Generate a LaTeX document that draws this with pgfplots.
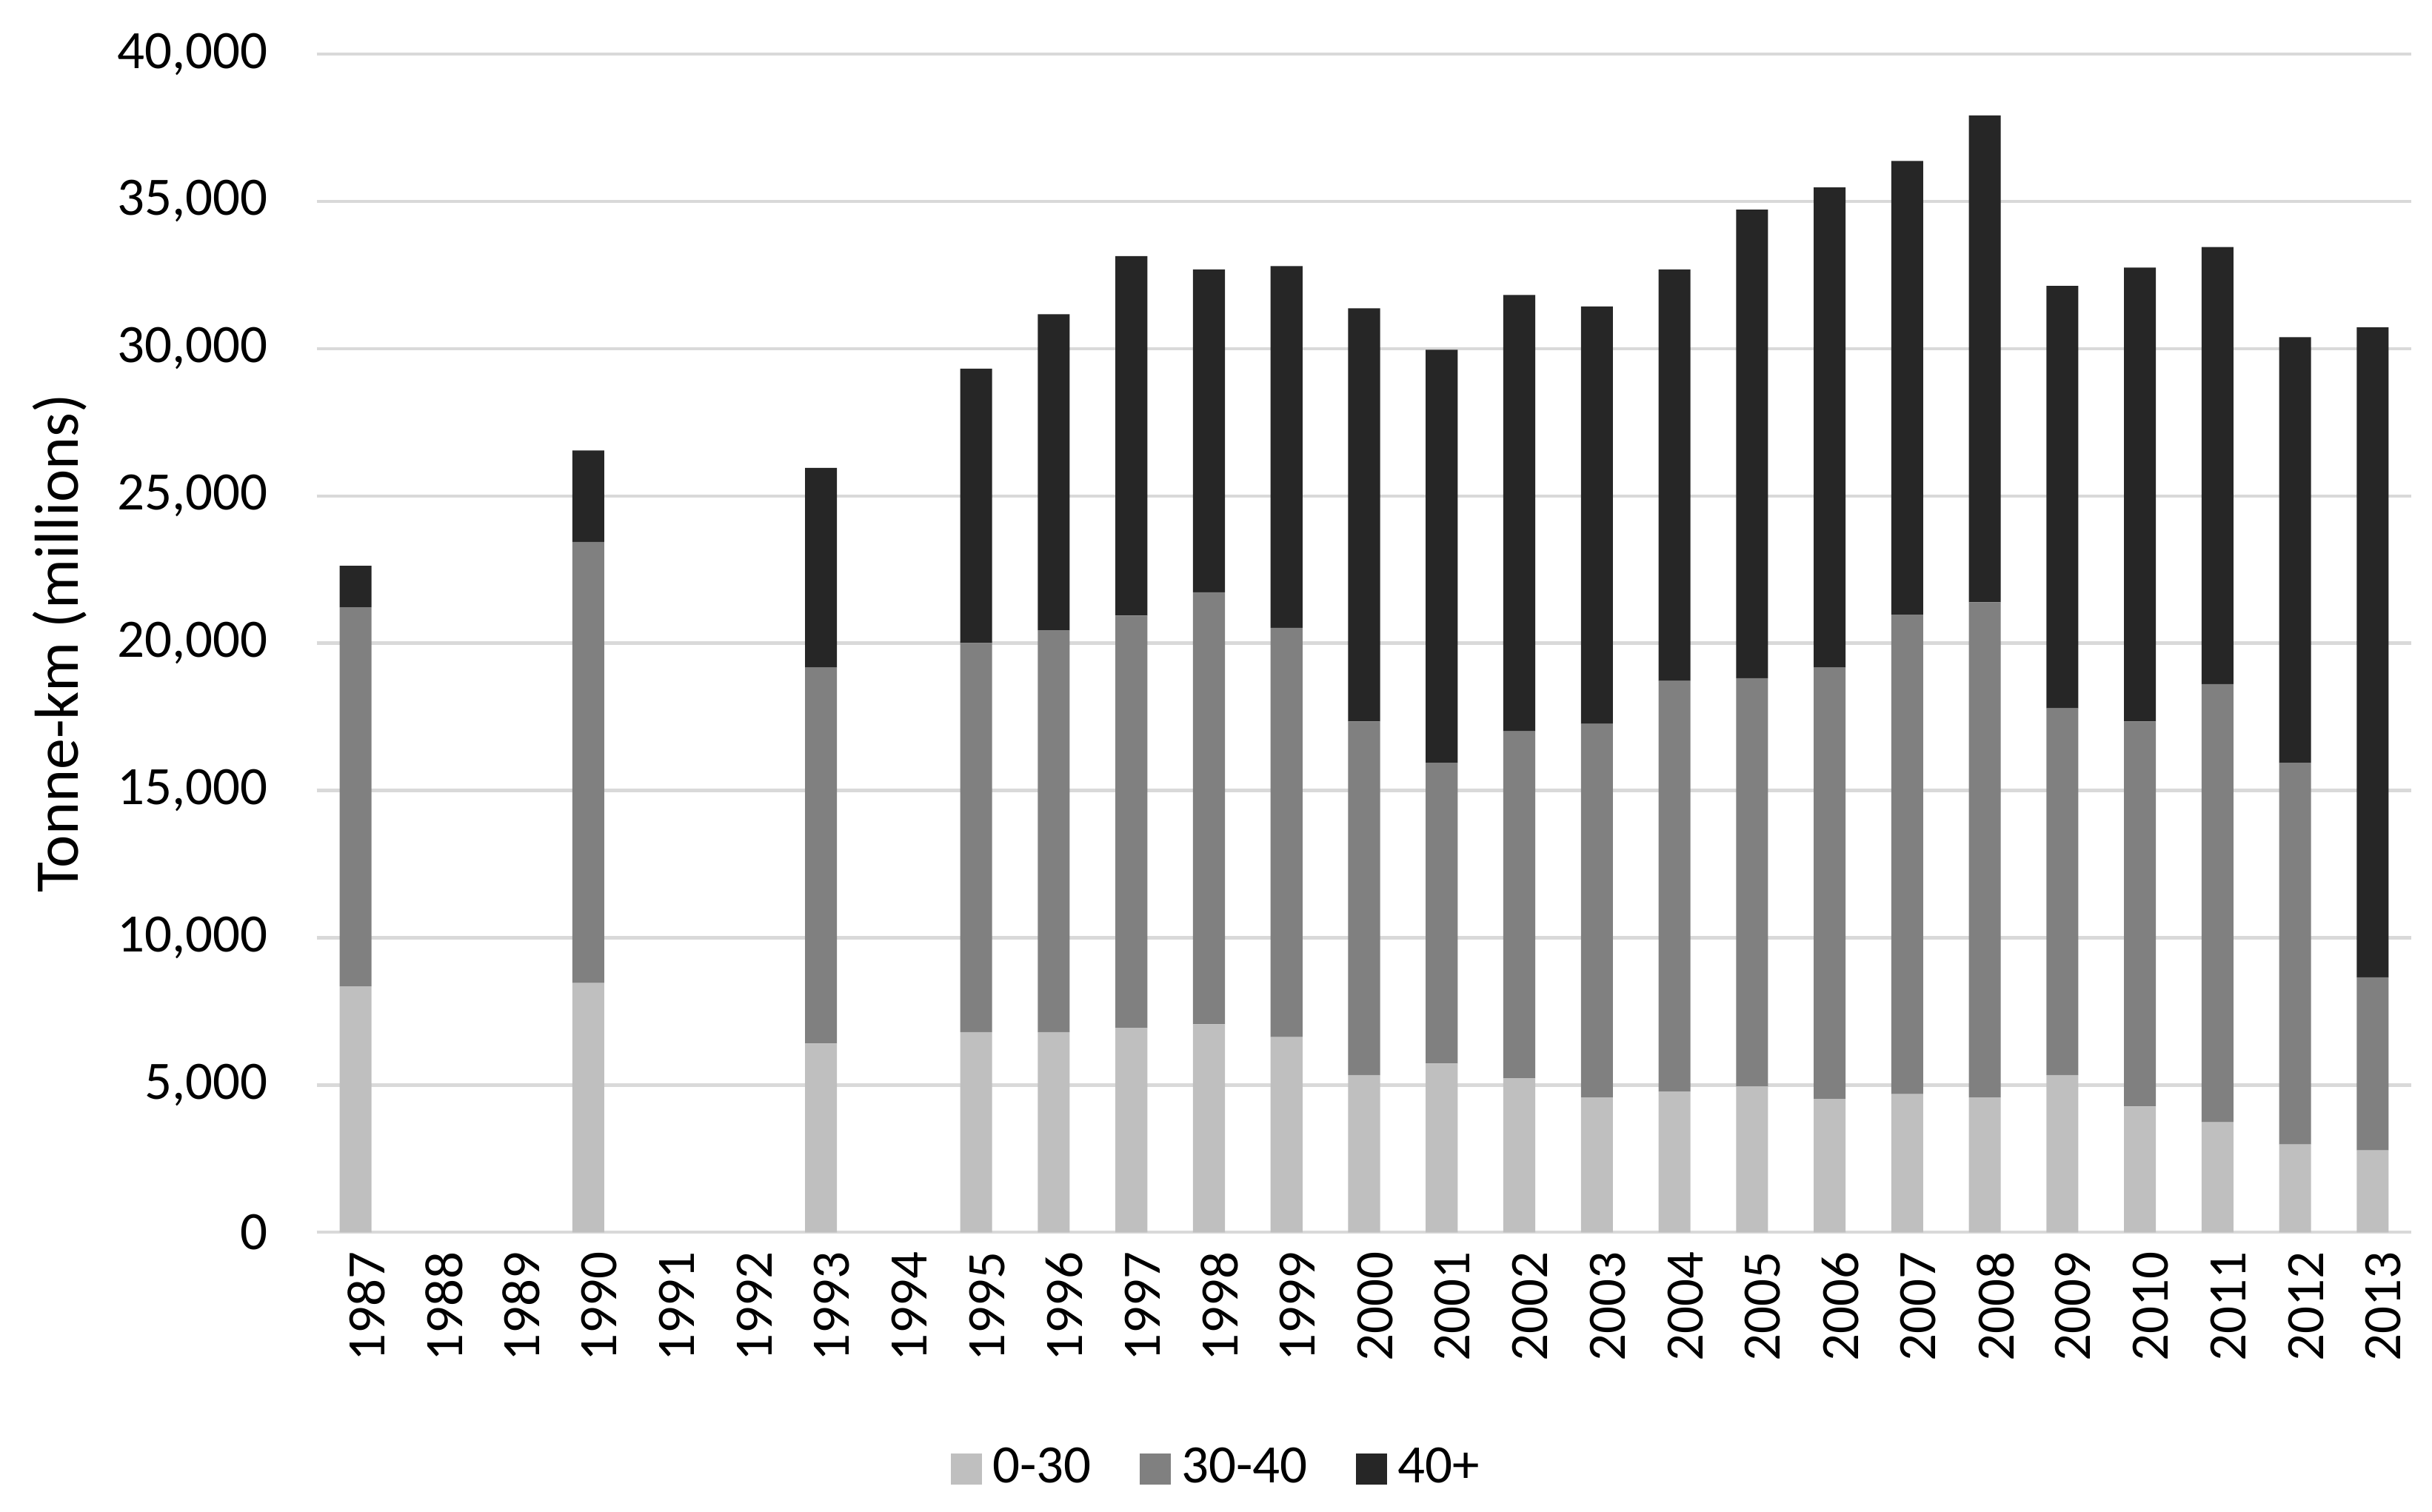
\documentclass[border=0pt]{standalone}
\usepackage{fontspec}
\setmainfont{Carlito}
\usepackage{pgfplots}
\usepackage{pgfplotstable}
\pgfplotsset{compat=1.18}
\definecolor{cA}{HTML}{BFBFBF}
\definecolor{cB}{HTML}{808080}
\definecolor{cC}{HTML}{262626}
\definecolor{gridc}{HTML}{D9D9D9}
\pgfplotstableread{
x a b c
0 8350 12870 1410
3 8460 14980 3100
6 6410 12760 6780
8 6800 13210 9310
9 6800 13640 10730
10 6940 14000 12200
11 7060 14670 10960
12 6630 13890 12280
13 5340 12000 14030
14 5730 10210 14020
15 5230 11780 14810
16 4580 12680 14170
17 4780 13940 13970
18 4950 13860 15910
19 4530 14640 16300
20 4690 16280 15400
21 4580 16810 16530
22 5340 12450 14340
23 4270 13070 15410
24 3740 14870 14840
25 2980 12960 14450
26 2780 5880 22060
}\data
\begin{document}
\begin{tikzpicture}
\path[use as bounding box] (-58.6pt,-51.7pt) rectangle (391.3pt,228pt);
\begin{axis}[
  at={(0,0)}, anchor=south west,
  scale only axis, width=387.5pt, height=218pt,
  ybar stacked, bar width=5.9pt,
  xmin=-0.5, xmax=26.5, ymin=0, ymax=40000,
  xtick={0,...,26},
  xticklabels={1987,1988,1989,1990,1991,1992,1993,1994,1995,1996,1997,1998,1999,2000,2001,2002,2003,2004,2005,2006,2007,2008,2009,2010,2011,2012,2013},
  ytick={0,5000,...,40000},
  scaled y ticks=false,
  /pgf/number format/1000 sep={,},
  /pgf/number format/assume math mode=true,
  ymajorgrids, major grid style={color=gridc, line width=0.6pt},
  axis lines*=left,
  x axis line style={color=gridc, line width=0.6pt},
  y axis line style={draw=none},
  tick style={draw=none},
  font=\fontsize{10}{12}\selectfont,
  ticklabel style={font=\fontsize{10}{12}\selectfont},
  xticklabel style={rotate=90, anchor=east, yshift=-2pt},
  yticklabel style={anchor=east, xshift=-5.5pt},
  ylabel={Tonne-km (millions)},
  ylabel style={at={(axis description cs:-0.1228,0.5)}, anchor=center, rotate=0, font=\fontsize{11.5}{13}\selectfont},
  legend style={at={(axis description cs:0.4315,-0.201)}, anchor=center, draw=none, fill=none,
    legend columns=-1, font=\fontsize{10}{12}\selectfont,
    /tikz/every even column/.append style={column sep=7pt}},
  legend image code/.code={\fill[#1] (0pt,-2.85pt) rectangle (5.7pt,2.85pt);},
]
\addplot[fill=cA, draw=none] table[x=x, y=a] {\data};
\addplot[fill=cB, draw=none] table[x=x, y=b] {\data};
\addplot[fill=cC, draw=none] table[x=x, y=c] {\data};
\legend{0-30,30-40,40+}
\end{axis}
\end{tikzpicture}
\end{document}
